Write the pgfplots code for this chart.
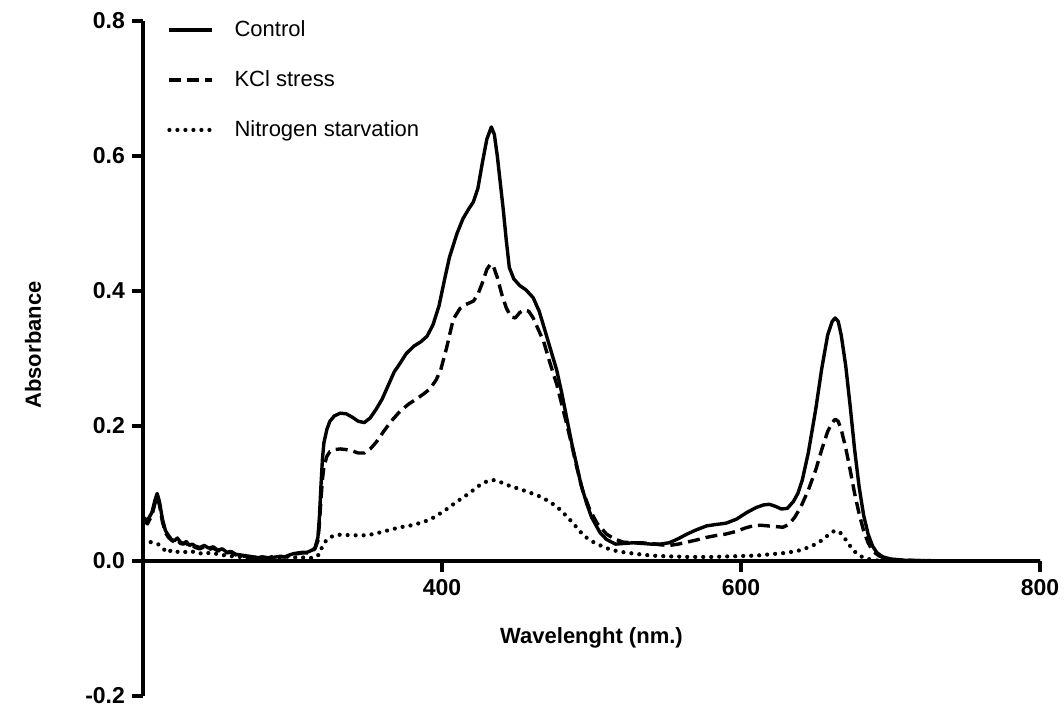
\documentclass[border=0pt]{standalone}
\usepackage{pgfplots}
\pgfplotsset{compat=1.18}
\usepackage{fontspec}
\setmainfont{Liberation Sans}
\begin{document}
\begin{tikzpicture}
\begin{axis}[
 scale only axis, width=448.5pt, height=337.5pt,
 xmin=200, xmax=800, ymin=-0.2, ymax=0.8,
 axis y line=left, axis x line=middle,
 axis line style={-, line width=1.6pt, black},
 hide obscured x ticks=false, hide obscured y ticks=false,
 xtick={400,600,800}, ytick={-0.2,0,0.2,0.4,0.6,0.8},
 minor tick num=0,
 tick align=outside, major tick length=5.5pt,
 tick style={line width=1.6pt, black},
 /pgf/number format/assume math mode=true,
 yticklabel style={/pgf/number format/.cd, fixed, fixed zerofill, precision=1},
 xticklabel style={/pgf/number format/.cd, fixed, precision=0},
 ticklabel style={font=\fontsize{11.5pt}{13pt}\selectfont\bfseries},
 every axis x label/.style={at={(axis description cs:0.5,0.0864)}, anchor=center, font=\fontsize{11pt}{13pt}\selectfont\bfseries},
 every axis y label/.style={at={(axis description cs:-0.1226,0.52)}, rotate=90, anchor=center, font=\fontsize{11pt}{13pt}\selectfont\bfseries},
 xlabel={Wavelenght (nm.)}, ylabel={Absorbance},
 clip=false,
 legend style={at={(axis description cs:0.02,1.013)}, anchor=north west, draw=none, fill=none, font=\fontsize{11pt}{13pt}\selectfont, row sep=11.5pt, cells={anchor=west}, /tikz/every odd column/.append style={column sep=8pt}},
 legend image code/.code={\draw[#1] (0pt,0pt) -- (21.5pt,0pt);},
 line join=round,
]
\addplot[black, line width=1.7pt, mark=none] coordinates {
(200,0.065)(203,0.060)(206,0.072)(208,0.090)(209.5,0.100)(211,0.088)(213,0.062)(215,0.045)(217,0.038)(219,0.032)(221,0.030)(223,0.034)(225,0.028)(227,0.026)(229,0.029)(231,0.023)(233,0.025)(235,0.022)(238,0.020)(241,0.023)(244,0.019)(247,0.021)(250,0.016)(253,0.018)(256,0.013)(259,0.014)(262,0.010)(265,0.009)(268,0.008)(271,0.007)(274,0.006)(277,0.005)(280,0.006)(283,0.005)(286,0.005)(289,0.006)(292,0.007)(295,0.006)(298,0.009)(301,0.011)(304,0.012)(307,0.013)(310,0.013)(313,0.016)(315,0.019)(317,0.035)(318,0.065)(319,0.11)(320,0.15)(321,0.175)(323,0.195)(325,0.207)(328,0.215)(332,0.219)(336,0.218)(340,0.213)(344,0.207)(348,0.205)(352,0.212)(356,0.225)(360,0.240)(364,0.260)(368,0.280)(372,0.293)(376,0.307)(381,0.318)(386,0.325)(390,0.333)(394,0.350)(398,0.378)(402,0.420)(405,0.450)(410,0.485)(414,0.507)(418,0.522)(421,0.532)(424,0.552)(427,0.590)(430,0.625)(433,0.643)(435,0.632)(437,0.600)(439,0.560)(441,0.520)(443,0.475)(445,0.435)(448,0.418)(452,0.408)(456,0.402)(461,0.390)(465,0.370)(468,0.348)(472,0.318)(476.7,0.283)(480,0.250)(483.4,0.212)(487,0.172)(490,0.143)(493,0.113)(496.8,0.085)(500,0.065)(505.7,0.042)(510,0.032)(516,0.025)(522,0.026)(528,0.027)(534,0.026)(540,0.025)(546,0.025)(552,0.027)(558,0.033)(564,0.040)(570,0.046)(577,0.052)(583,0.054)(590,0.056)(597,0.062)(604,0.072)(610,0.079)(615,0.083)(619,0.084)(623,0.081)(627,0.077)(631,0.078)(635,0.088)(638,0.100)(641,0.120)(645,0.160)(650,0.225)(654,0.285)(658,0.335)(661,0.355)(663,0.360)(665,0.355)(667,0.335)(670,0.290)(673,0.230)(676,0.165)(679,0.110)(682,0.068)(685,0.040)(688,0.022)(691,0.012)(695,0.006)(700,0.003)(710,0.001)(720,0.0005)(740,0.0)(760,0.0)(780,0.0)(800,0.0)
};
\addlegendentry{Control}
\addplot[black, line width=1.7pt, dash pattern=on 6pt off 3pt, mark=none] coordinates {
(200,0.060)(203,0.055)(206,0.068)(208,0.085)(209.5,0.095)(211,0.083)(213,0.058)(215,0.042)(217,0.035)(219,0.031)(221,0.028)(223,0.031)(225,0.026)(227,0.025)(229,0.027)(231,0.021)(233,0.023)(235,0.020)(238,0.018)(241,0.021)(244,0.017)(247,0.019)(250,0.015)(253,0.016)(256,0.012)(259,0.013)(262,0.009)(265,0.008)(268,0.007)(271,0.006)(274,0.005)(277,0.005)(280,0.006)(283,0.004)(286,0.005)(289,0.005)(292,0.006)(295,0.006)(298,0.008)(301,0.010)(304,0.011)(307,0.012)(310,0.012)(313,0.015)(315,0.018)(317,0.030)(318,0.055)(319,0.090)(320,0.120)(321,0.140)(323,0.155)(325,0.162)(328,0.165)(332,0.166)(336,0.165)(340,0.163)(344,0.160)(348,0.160)(352,0.166)(356,0.176)(361,0.192)(366,0.207)(372,0.222)(378,0.233)(383,0.240)(388,0.248)(392,0.255)(396,0.268)(399,0.282)(403,0.315)(407.5,0.358)(412,0.374)(416,0.380)(421,0.385)(424,0.395)(427,0.412)(430,0.432)(432.5,0.440)(434.5,0.436)(437,0.420)(440,0.395)(443,0.375)(446,0.362)(449,0.360)(452,0.368)(455,0.372)(458,0.370)(461,0.360)(464,0.345)(468,0.325)(472,0.295)(476.7,0.262)(480,0.233)(483.4,0.203)(487,0.170)(490,0.140)(494,0.105)(499,0.075)(504,0.055)(510,0.040)(515,0.033)(521,0.028)(527,0.027)(533,0.027)(540,0.026)(546,0.024)(552,0.023)(558,0.025)(564,0.028)(570,0.031)(577,0.035)(584,0.038)(590,0.040)(597,0.044)(603,0.049)(608,0.052)(613,0.053)(618,0.052)(623,0.051)(628,0.050)(632,0.054)(636,0.065)(640,0.080)(645,0.105)(650,0.135)(654,0.165)(658,0.192)(661,0.205)(663,0.210)(665,0.207)(667,0.195)(670,0.168)(673,0.135)(676,0.100)(679,0.070)(682,0.045)(685,0.027)(688,0.015)(692,0.008)(696,0.004)(700,0.002)(710,0.001)(740,0.0)(800,0.0)
};
\addlegendentry{KCl stress}
\addplot[black, line width=2.1pt, line cap=round, dash pattern=on 0pt off 4pt, mark=none] coordinates {
(200,0.025)(205,0.028)(210,0.025)(213,0.020)(216,0.012)(219,0.016)(222,0.013)(226,0.015)(230,0.012)(234,0.014)(238,0.011)(242,0.013)(246,0.010)(250,0.011)(255,0.008)(260,0.007)(265,0.006)(270,0.004)(275,0.005)(280,0.004)(285,0.006)(290,0.005)(295,0.007)(300,0.005)(305,0.006)(310,0.004)(315,0.005)(318,0.010)(320,0.022)(323,0.032)(327,0.037)(332,0.039)(340,0.038)(350,0.038)(358,0.042)(365,0.046)(372,0.050)(380,0.053)(388,0.058)(395,0.065)(402,0.075)(410,0.088)(418,0.100)(425,0.112)(430,0.118)(434,0.120)(438,0.118)(443,0.113)(450,0.108)(458,0.102)(465,0.096)(472,0.088)(478,0.078)(484,0.065)(490,0.050)(495,0.037)(502,0.027)(510,0.019)(518,0.014)(528,0.011)(540,0.008)(550,0.007)(565,0.006)(580,0.006)(595,0.007)(610,0.008)(620,0.010)(630,0.012)(638,0.015)(645,0.020)(650,0.025)(655,0.032)(659,0.040)(662,0.044)(664,0.045)(666,0.043)(669,0.035)(672,0.025)(676,0.014)(680,0.007)(685,0.003)(690,0.001)(700,0.0)(800,0.0)
};
\addlegendentry{Nitrogen starvation}
\end{axis}
\pgfresetboundingbox
\path ([xshift=-71.5pt,yshift=-6pt]current axis.south west) rectangle ([xshift=12pt,yshift=10.5pt]current axis.north east);
\end{tikzpicture}
\end{document}
